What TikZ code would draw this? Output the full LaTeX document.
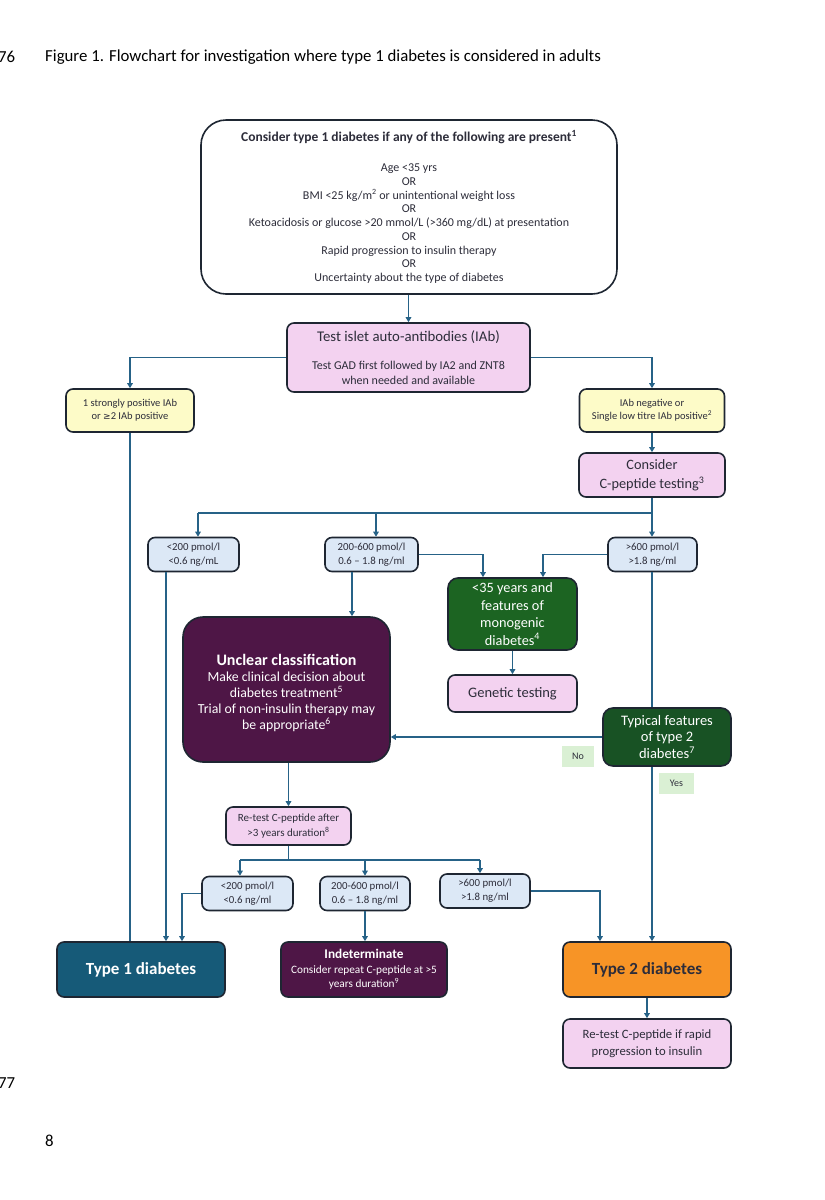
\documentclass[tikz,border=0pt]{standalone}
\usepackage{fontspec}
\setmainfont{Carlito}
\newfontfamily\symf{DejaVu Sans}
\usetikzlibrary{arrows.meta}
\definecolor{outl}{RGB}{30,38,50}
\definecolor{conncol}{RGB}{38,98,135}
\definecolor{pinkf}{RGB}{243,210,240}
\definecolor{yellowf}{RGB}{253,251,200}
\definecolor{bluef}{RGB}{220,232,246}
\definecolor{greenf}{RGB}{28,100,34}
\definecolor{darkgreenf}{RGB}{24,82,36}
\definecolor{purplef}{RGB}{78,22,70}
\definecolor{tealf}{RGB}{22,90,120}
\definecolor{orangef}{RGB}{247,148,38}
\definecolor{labelf}{RGB}{218,240,212}
\definecolor{txt}{RGB}{45,45,58}
\newcommand{\fsz}[2]{\fontsize{#1}{#2}\selectfont}
\begin{document}
\begin{tikzpicture}[x=1pt,y=-1pt,
  box/.style={draw=outl,line width=1.6pt,rounded corners=7pt,align=center,inner sep=0pt,text=txt},
  pinkbox/.style={box,fill=pinkf},
  yelbox/.style={box,fill=yellowf},
  bluebox/.style={box,fill=bluef},
  greenbox/.style={box,fill=greenf,text=white,rounded corners=10pt},
  purplebox/.style={box,fill=purplef,text=white},
  tag/.style={fill=labelf,inner sep=0pt,text=txt,font=\fsz{10}{12}},
  conn/.style={draw=conncol,line width=1.4pt},
  arr/.style={conn,-{Triangle[length=5pt,width=5.5pt]}},
  plain/.style={inner sep=0pt,anchor=west,text=black,font=\fsz{16.8}{18}}
]
\useasboundingbox (0,0) rectangle (825,1200);
\fill[white] (0,0) rectangle (825,1200);

% page furniture
\node[plain] (n76) at (-2,57) {76};
\node[plain] (cap) at (45,57) {Figure 1. Flowchart for investigation where type 1 diabetes is considered in adults};
\node[plain] (n77) at (-2,1083) {77};
\node[plain] (n8) at (45,1141) {8};

% nodes
\node[box,fill=white,rounded corners=25pt,minimum width=416pt,minimum height=174pt,font=\fsz{12}{13.75}] (top) at (409,207)
 {{\fsz{13.5}{14}\textbf{Consider type 1 diabetes if any of the following are present\textsuperscript{1}}}\\[16pt]
  Age <35 yrs\\ OR\\ BMI <25 kg/m\textsuperscript{2} or unintentional weight loss\\ OR\\
  Ketoacidosis or glucose >20 mmol/L (>360 mg/dL) at presentation\\ OR\\ Rapid progression to insulin therapy\\ OR\\
  Uncertainty about the type of diabetes};

\node[pinkbox,minimum width=243pt,minimum height=69pt,font=\fsz{12}{15}] (test) at (408.5,357.5)
 {{\fsz{14.8}{15}Test islet auto-antibodies (IAb)}\\[13pt]
  Test GAD first followed by IA2 and ZNT8\\ when needed and available};

\node[yelbox,minimum width=128pt,minimum height=43pt,font=\fsz{10.5}{13}] (yelL) at (130,410.5)
 {1 strongly positive IAb\\ or {\symf\fsz{9}{13}≥}2 IAb positive};
\node[yelbox,minimum width=145pt,minimum height=43pt,font=\fsz{10.5}{13}] (yelR) at (652,410.5)
 {IAb negative or\\ Single low titre IAb positive\textsuperscript{2}};

\node[pinkbox,minimum width=146pt,minimum height=44pt,font=\fsz{14.3}{19}] (consider) at (652,475)
 {Consider\\ C-peptide testing\textsuperscript{3}};

\node[bluebox,minimum width=91pt,minimum height=34pt,font=\fsz{10.8}{14}] (cpL) at (193.5,554.5)
 {<200 pmol/l\\ <0.6 ng/mL};
\node[bluebox,minimum width=93pt,minimum height=34pt,font=\fsz{10.8}{14}] (cpM) at (371.5,554.5)
 {200-600 pmol/l\\ 0.6 – 1.8 ng/ml};
\node[bluebox,minimum width=89pt,minimum height=34pt,font=\fsz{10.8}{14}] (cpR) at (652.5,554.5)
 {>600 pmol/l\\ >1.8 ng/ml};

\node[greenbox,minimum width=129pt,minimum height=72pt,font=\fsz{14.3}{17.5}] (mono) at (512.5,614)
 {<35 years and\\ features of\\ monogenic\\ diabetes\textsuperscript{4}};
\node[pinkbox,minimum width=129pt,minimum height=37pt,font=\fsz{14.5}{16}] (gen) at (512.5,693.5)
 {Genetic testing};

\node[purplebox,rounded corners=20pt,minimum width=207pt,minimum height=145pt,font=\fsz{13.8}{16}] (unclear) at (286.5,689.5)
 {\rule{0pt}{18pt}{\fsz{16}{17}\textbf{Unclear classification}}\\
  Make clinical decision about\\ diabetes treatment\textsuperscript{5}\\
  Trial of non-insulin therapy may\\ be appropriate\textsuperscript{6}};

\node[greenbox,fill=darkgreenf,minimum width=128pt,minimum height=58pt,font=\fsz{14.5}{16.5}] (typical) at (667,737)
 {Typical features\\ of type 2\\ diabetes\textsuperscript{7}};
\node[tag,minimum width=32pt,minimum height=21pt] (no) at (578,756.5) {No};
\node[tag,minimum width=35pt,minimum height=21pt] (yes) at (676.5,783.5) {Yes};

\node[pinkbox,minimum width=125pt,minimum height=38pt,font=\fsz{11}{15}] (retest) at (288.5,826)
 {Re-test C-peptide after\\ >3 years duration\textsuperscript{8}};

\node[bluebox,minimum width=91pt,minimum height=34pt,font=\fsz{10.8}{14}] (c2L) at (247.5,893.5)
 {<200 pmol/l\\ <0.6 ng/ml};
\node[bluebox,minimum width=90pt,minimum height=34pt,font=\fsz{10.8}{14}] (c2M) at (365,893.5)
 {200-600 pmol/l\\ 0.6 – 1.8 ng/ml};
\node[bluebox,minimum width=90pt,minimum height=34pt,font=\fsz{10.8}{14}] (c2R) at (485,891)
 {>600 pmol/l\\ >1.8 ng/ml};

\node[box,fill=tealf,text=white,minimum width=168pt,minimum height=55pt,font=\fsz{17}{19}] (t1) at (141,969.5)
 {\textbf{Type 1 diabetes}};
\node[purplebox,minimum width=166pt,minimum height=55pt,font=\fsz{11.3}{14.5}] (indet) at (364,969.5)
 {{\fsz{13.3}{14.5}\textbf{Indeterminate}}\\
  Consider repeat C-peptide at >5\\ years duration\textsuperscript{9}};
\node[box,fill=orangef,minimum width=168pt,minimum height=55pt,font=\fsz{17}{19}] (t2) at (647,969.5)
 {\textbf{Type 2 diabetes}};
\node[pinkbox,minimum width=168pt,minimum height=49pt,font=\fsz{12.7}{17}] (rt2) at (647,1043.5)
 {Re-test C-peptide if rapid\\ progression to insulin};

% helper coordinates
\coordinate (bus1) at (0,513);
\coordinate (bus2) at (0,860);
\coordinate (xa) at (166,0);
\coordinate (xb) at (352,0);
\coordinate (xc) at (483,0);
\coordinate (xd) at (543,0);
\coordinate (xe) at (182,0);
\coordinate (xf) at (600,0);
\coordinate (xg) at (240,0);
\coordinate (xh) at (480,0);
\coordinate (xi) at (130,0);
\coordinate (xj) at (652,0);
\coordinate (xk) at (198,0);
\coordinate (xl) at (376,0);

% connectors
\draw[arr] (top.south -| test.north) -- (test.north);
\draw[arr] (test.west) -| (yelL.north);
\draw[arr] (test.east) -| (yelR.north);
\draw[conn] (xi |- yelL.south) -- (xi |- t1.north);
\draw[arr] (yelR.south) -- (consider.north);

\draw[conn] (consider.south) -- (xj |- bus1);
\draw[conn] (xk |- bus1) -- (xj |- bus1);
\draw[arr] (xk |- bus1) -- (xk |- cpL.north);
\draw[arr] (xl |- bus1) -- (xl |- cpM.north);
\draw[arr] (xj |- bus1) -- (xj |- cpR.north);

\draw[arr] (cpM.east) -| (xc |- mono.north);
\draw[arr] (cpR.west) -| (xd |- mono.north);
\draw[arr] (mono.south) -- (gen.north);

\draw[arr] (xa |- cpL.south) -- (xa |- t1.north);
\draw[arr] (xb |- cpM.south) -- (xb |- unclear.north);
\draw[conn] (xj |- cpR.south) -- (xj |- typical.north);
\draw[arr] (xj |- typical.south) -- (xj |- t2.north);
\draw[arr] (typical.west) -- (typical.west -| unclear.east);

\draw[arr] (retest.north |- unclear.south) -- (retest.north);
\draw[conn] (retest.south) -- (retest.south |- bus2);
\draw[conn] (xg |- bus2) -- (xh |- bus2);
\draw[arr] (xg |- bus2) -- (xg |- c2L.north);
\draw[arr] (c2M.north |- bus2) -- (c2M.north);
\draw[arr] (xh |- bus2) -- (xh |- c2R.north);

\draw[arr] (c2L.west) -| (xe |- t1.north);
\draw[arr] (c2M.south) -- (c2M.south |- indet.north);
\draw[arr] (c2R.east) -| (xf |- t2.north);
\draw[arr] (t2.south) -- (rt2.north);
\end{tikzpicture}
\end{document}
